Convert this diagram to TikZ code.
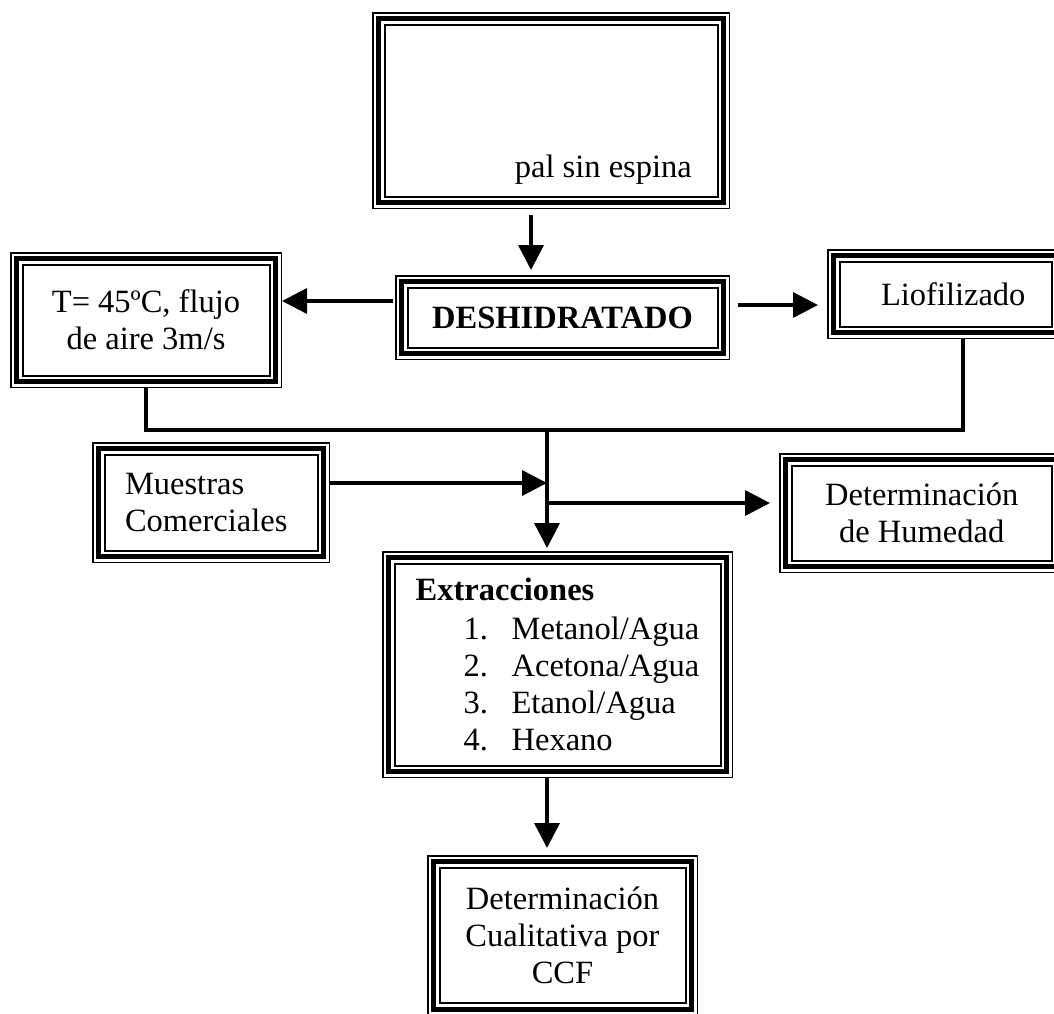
\documentclass[tikz,border=0pt]{standalone}
\usepackage{fontspec}
\setmainfont{Liberation Serif}
\usetikzlibrary{arrows.meta}
\tikzset{
	caja/.style={draw, line width=2pt, outer sep=12.5pt, inner sep=0pt, align=center,
		font=\fontsize{32.5}{37}\selectfont,
		append after command={\pgfextra{
			\draw[line width=5pt] ([shift={(6.5pt,-6.5pt)}]\tikzlastnode.north west) rectangle ([shift={(-6.5pt,6.5pt)}]\tikzlastnode.south east);
			\draw[line width=1.5pt] ([shift={(0.75pt,-0.75pt)}]\tikzlastnode.north west) rectangle ([shift={(-0.75pt,0.75pt)}]\tikzlastnode.south east);
		}}},
	texto/.style={inner sep=0pt, font=\fontsize{32.5}{37}\selectfont},
	linea/.style={line width=3.5pt},
	flecha/.style={line width=3.5pt, -{Triangle[length=25pt,width=25pt]}}
}
\begin{document}
\begin{tikzpicture}[x=1pt, y=1pt]
			\useasboundingbox (0,0) rectangle (1054,-1013);
			\clip (0,0) rectangle (1054,-1013);
			\node[caja, minimum width=333pt, minimum height=172pt] (nopal) at (551,-110.5) {};
			\node[texto, anchor=base east] (pal) at ([shift={(-38pt,32pt)}]nopal.south east) {pal sin espina};
			\node[caja, minimum width=310pt, minimum height=60pt] (deshid) at (562.5,-317.5) {\raisebox{-5pt}{\textbf{DESHIDRATADO}}};
			\node[caja, minimum width=247pt, minimum height=111pt] (secado) at (146,-320) {T= 45ºC, flujo\\de aire 3m/s};
			\node[caja, minimum width=212.5pt, minimum height=65pt] (liof) at (945.75,-294) {\hspace*{15pt}Liofilizado};
			\node[caja, minimum width=213pt, minimum height=96pt, align=left, text width=172pt] (muestras) at (211,-502.5) {Muestras\\Comerciales};
			\node[caja, minimum width=260.5pt, minimum height=95pt] (humedad) at (921.75,-513) {Determinación\\de Humedad};
			\node[caja, minimum width=326pt, minimum height=202pt, align=left] (extr) at (557.5,-664.5) {\textbf{Extracciones}\\[2pt]
				\hspace*{48pt}\makebox[48pt][l]{1.}Metanol/Agua\\
				\hspace*{48pt}\makebox[48pt][l]{2.}Acetona/Agua\\
				\hspace*{48pt}\makebox[48pt][l]{3.}Etanol/Agua\\
				\hspace*{48pt}\makebox[48pt][l]{4.}Hexano};
			\node[caja, minimum width=246pt, minimum height=135.5pt] (ccf) at (562.5,-935.25) {Determinación\\Cualitativa por\\CCF};
			\coordinate (union) at (547,-430);
			\coordinate (mu) at ([yshift=19.5pt]muestras.east);
			\coordinate (hu) at ([yshift=10pt]humedad.west);
			\draw[flecha] ([shift={(-20pt,-6pt)}]nopal.south) -- ([shift={(-31.5pt,5pt)}]deshid.north);
			\draw[flecha] ([shift={(-2pt,16.5pt)}]deshid.west) -- ([yshift=19pt]secado.east);
			\draw[flecha] ([shift={(8pt,12.5pt)}]deshid.east) -- ([shift={(-9pt,-11pt)}]liof.west);
			\draw[linea] (secado.south) |- (union) -| ([xshift=17.25pt]liof.south);
			\draw[flecha] (union) -- ([shift={(-10.5pt,3pt)}]extr.north);
			\draw[flecha] (mu) -- (mu -| union);
			\draw[flecha] (hu -| union) -- ([xshift=-9pt]hu);
			\draw[flecha] ([xshift=-10.5pt]extr.south) -- ([shift={(-15.5pt,7pt)}]ccf.north);
		\end{tikzpicture}
\end{document}
